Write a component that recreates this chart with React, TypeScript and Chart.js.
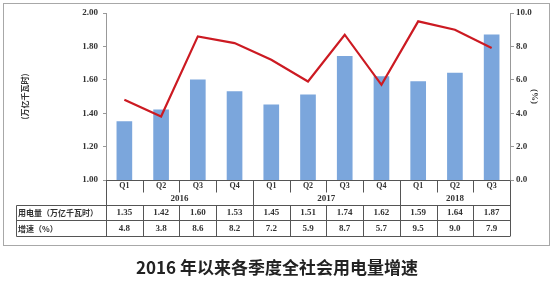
import React, { useEffect, useRef } from "react";
import { Chart, registerables } from "chart.js";

Chart.register(...registerables);

const quarters = ["Q1", "Q2", "Q3", "Q4", "Q1", "Q2", "Q3", "Q4", "Q1", "Q2", "Q3"];
const years = ["2016", "2017", "2018"];
const yearSpans = [4, 4, 3];
const consumption = [1.35, 1.42, 1.6, 1.53, 1.45, 1.51, 1.74, 1.62, 1.59, 1.64, 1.87];
const growth = [4.8, 3.8, 8.6, 8.2, 7.2, 5.9, 8.7, 5.7, 9.5, 9.0, 7.9];
const rowLabels = ["用电量（万亿千瓦时）", "增速（%）"];
const leftTitle = "(万亿千瓦时)";
const rightTitle = "(%)";
const chartTitle = "2016 年以来各季度全社会用电量增速";

const SERIF = "'Liberation Serif', 'Times New Roman', serif";
const CJK = "'Noto Sans CJK SC', sans-serif";

const tablePlugin = {
  id: "tablePlugin",
  afterDraw(chart: any) {
    const ctx = chart.ctx;
    const { left, right, bottom } = chart.chartArea;
    const n = quarters.length;
    const bw = (right - left) / n;
    const tableLeft = 16.5;
    const yTop = Math.round(bottom) + 0.5;
    const yQ = 192.5;
    const yRow1 = 205.5;
    const yRow2 = 220.5;
    const yRow3 = 236.5;
    ctx.save();
    // outer frame
    ctx.strokeStyle = "#a8a8a8";
    ctx.lineWidth = 1;
    ctx.strokeRect(3.5, 3.5, 546, 242);

    ctx.strokeStyle = "#555";
    ctx.beginPath();
    ctx.moveTo(left, yTop);
    ctx.lineTo(right, yTop);
    [yRow1, yRow2, yRow3].forEach((y) => {
      ctx.moveTo(tableLeft, y);
      ctx.lineTo(right, y);
    });
    const boundaries = new Set<number>();
    let acc = 0;
    yearSpans.forEach((s) => {
      acc += s;
      boundaries.add(acc);
    });
    for (let i = 0; i <= n; i++) {
      const x = Math.round(left + i * bw) + 0.5;
      const full = i === 0 || i === n || boundaries.has(i);
      ctx.moveTo(x, yTop);
      ctx.lineTo(x, full ? yRow3 : yQ);
      if (!full) {
        ctx.moveTo(x, yRow1);
        ctx.lineTo(x, yRow3);
      }
    }
    ctx.moveTo(tableLeft, yRow1);
    ctx.lineTo(tableLeft, yRow3);
    ctx.stroke();

    ctx.fillStyle = "#333";
    ctx.textAlign = "center";
    ctx.textBaseline = "middle";
    ctx.font = `bold 9px ${SERIF}`;
    let start = 0;
    years.forEach((yr, k) => {
      const cx = left + (start + yearSpans[k] / 2) * bw;
      ctx.fillText(yr, cx, 198.5);
      start += yearSpans[k];
    });
    for (let i = 0; i < n; i++) {
      const cx = left + (i + 0.5) * bw;
      ctx.fillText(consumption[i].toFixed(2), cx, 213);
      ctx.fillText(growth[i].toFixed(1), cx, 228.5);
    }
    ctx.textAlign = "left";
    ctx.font = `bold 8px ${CJK}`;
    ctx.fillText(rowLabels[0], 18, 213);
    ctx.fillText(rowLabels[1], 18, 228.5);

    ctx.textAlign = "center";
    ctx.font = `bold 17px ${CJK}`;
    ctx.fillStyle = "#222";
    ctx.fillText(chartTitle, 277, 268);
    ctx.restore();
  },
};

export default function App() {
  const ref = useRef<HTMLCanvasElement>(null);
  useEffect(() => {
    if (!ref.current) return;
    const chart = new Chart(ref.current, {
      type: "bar",
      data: {
        labels: quarters,
        datasets: [
          {
            type: "line",
            label: "增速",
            data: growth,
            yAxisID: "y1",
            borderColor: "#cc1a22",
            borderWidth: 2.2,
            pointRadius: 0,
            tension: 0,
            order: 0,
          } as any,
          {
            type: "bar",
            label: "用电量",
            data: consumption,
            yAxisID: "y",
            backgroundColor: "#7ba6dc",
            barThickness: 15,
            order: 1,
          },
        ],
      },
      options: {
        responsive: false,
        animation: false,
        layout: { padding: { top: 13, left: 0, right: 0, bottom: 0 } },
        plugins: { legend: { display: false }, tooltip: { enabled: false } },
        scales: {
          x: {
            offset: true,
            grid: { display: false, drawTicks: false },
            border: { display: false },
            ticks: { font: { family: SERIF, size: 8, weight: "bold" }, color: "#333", padding: 1, maxRotation: 0 },
            afterFit: (s: any) => {
              s.height = 102;
            },
          },
          y: {
            position: "left",
            min: 1,
            max: 2,
            ticks: {
              stepSize: 0.2,
              callback: (v: any) => Number(v).toFixed(2),
              font: { family: SERIF, size: 9, weight: "bold" },
              color: "#333",
              padding: 5,
            },
            grid: { drawOnChartArea: false, drawTicks: true, tickLength: 3, color: "#999" },
            border: { color: "#999" },
            title: {
              display: true,
              text: leftTitle,
              font: { family: CJK, size: 8, weight: "bold" },
              color: "#333",
              padding: { top: 20, bottom: 0 },
            },
            afterFit: (s: any) => {
              s.width = 106;
            },
          },
          y1: {
            position: "right",
            min: 0,
            max: 10,
            ticks: {
              stepSize: 2,
              callback: (v: any) => Number(v).toFixed(1),
              font: { family: SERIF, size: 9, weight: "bold" },
              color: "#333",
              padding: 2,
            },
            grid: { drawOnChartArea: false, drawTicks: true, tickLength: 4, color: "#999" },
            border: { color: "#999" },
            title: {
              display: true,
              text: rightTitle,
              font: { family: SERIF, size: 9, weight: "bold" },
              color: "#333",
              padding: { top: 13, bottom: 0 },
            },
            afterFit: (s: any) => {
              s.width = 43;
            },
          },
        },
      },
      plugins: [tablePlugin],
    });
    return () => chart.destroy();
  }, []);
  return (
    <div style={{ position: "fixed", left: 0, top: 0, width: 553, height: 282, background: "#fff" }}>
      <canvas ref={ref} width={553} height={282} style={{ display: "block" }} />
    </div>
  );
}
